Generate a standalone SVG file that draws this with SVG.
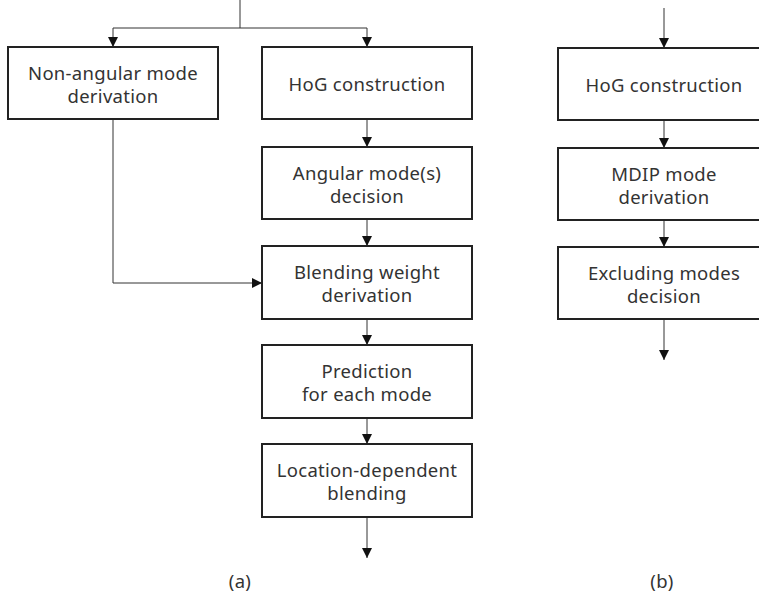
<svg xmlns="http://www.w3.org/2000/svg" width="759" height="597" viewBox="0 0 759 597">
<defs>
<marker id="ah" markerWidth="11" markerHeight="11" refX="10" refY="5.5" orient="auto" markerUnits="userSpaceOnUse">
<path d="M0,0.5 L10,5.5 L0,10.5 Z" fill="#111"/>
</marker>
<style>
.box{fill:#fff;stroke:#222;stroke-width:2}
.t{font-family:"Noto Sans","Noto Sans CJK KR",sans-serif;font-size:18.5px;fill:#333;text-anchor:middle;letter-spacing:0.3px}
.c{fill:none;stroke:#333;stroke-width:1}
</style>
</defs>
<rect width="759" height="597" fill="#fff"/>
<g id="connectors">
<path class="c" d="M240,0 V28"/>
<path class="c" d="M113,28 H367"/>
<path class="c" d="M113,28 V47" marker-end="url(#ah)"/>
<path class="c" d="M367,28 V47" marker-end="url(#ah)"/>
<path class="c" d="M367,119 V147" marker-end="url(#ah)"/>
<path class="c" d="M367,219 V246" marker-end="url(#ah)"/>
<path class="c" d="M113,119 V283 H262" marker-end="url(#ah)"/>
<path class="c" d="M367,319 V345" marker-end="url(#ah)"/>
<path class="c" d="M367,418 V444" marker-end="url(#ah)"/>
<path class="c" d="M367,517 V558" marker-end="url(#ah)"/>
<path class="c" d="M664,8 V48" marker-end="url(#ah)"/>
<path class="c" d="M664,120 V148" marker-end="url(#ah)"/>
<path class="c" d="M664,220 V247" marker-end="url(#ah)"/>
<path class="c" d="M664,319 V360" marker-end="url(#ah)"/>
</g>
<g id="n-nonangular">
<rect class="box" x="8" y="47" width="210" height="72"/>
<text class="t" x="113" y="80">Non-angular mode</text>
<text class="t" x="113" y="103">derivation</text>
</g>
<g id="n-hog-a">
<rect class="box" x="262" y="47" width="210" height="72"/>
<text class="t" x="367" y="91">HoG construction</text>
</g>
<g id="n-angular">
<rect class="box" x="262" y="147" width="210" height="72"/>
<text class="t" x="367" y="180">Angular mode(s)</text>
<text class="t" x="367" y="203">decision</text>
</g>
<g id="n-blending">
<rect class="box" x="262" y="246" width="210" height="73"/>
<text class="t" x="367" y="279">Blending weight</text>
<text class="t" x="367" y="302">derivation</text>
</g>
<g id="n-prediction">
<rect class="box" x="262" y="345" width="210" height="73"/>
<text class="t" x="367" y="378">Prediction</text>
<text class="t" x="367" y="401">for each mode</text>
</g>
<g id="n-location">
<rect class="box" x="262" y="444" width="210" height="73"/>
<text class="t" x="367" y="477">Location-dependent</text>
<text class="t" x="367" y="500">blending</text>
</g>
<g id="n-hog-b">
<rect class="box" x="558" y="48" width="210" height="72"/>
<text class="t" x="664" y="92">HoG construction</text>
</g>
<g id="n-mdip">
<rect class="box" x="558" y="148" width="210" height="72"/>
<text class="t" x="664" y="181">MDIP mode</text>
<text class="t" x="664" y="204">derivation</text>
</g>
<g id="n-excluding">
<rect class="box" x="558" y="247" width="210" height="72"/>
<text class="t" x="664" y="280">Excluding modes</text>
<text class="t" x="664" y="303">decision</text>
</g>
<text class="t" x="240" y="588">(a)</text>
<text class="t" x="662" y="588">(b)</text>
</svg>
